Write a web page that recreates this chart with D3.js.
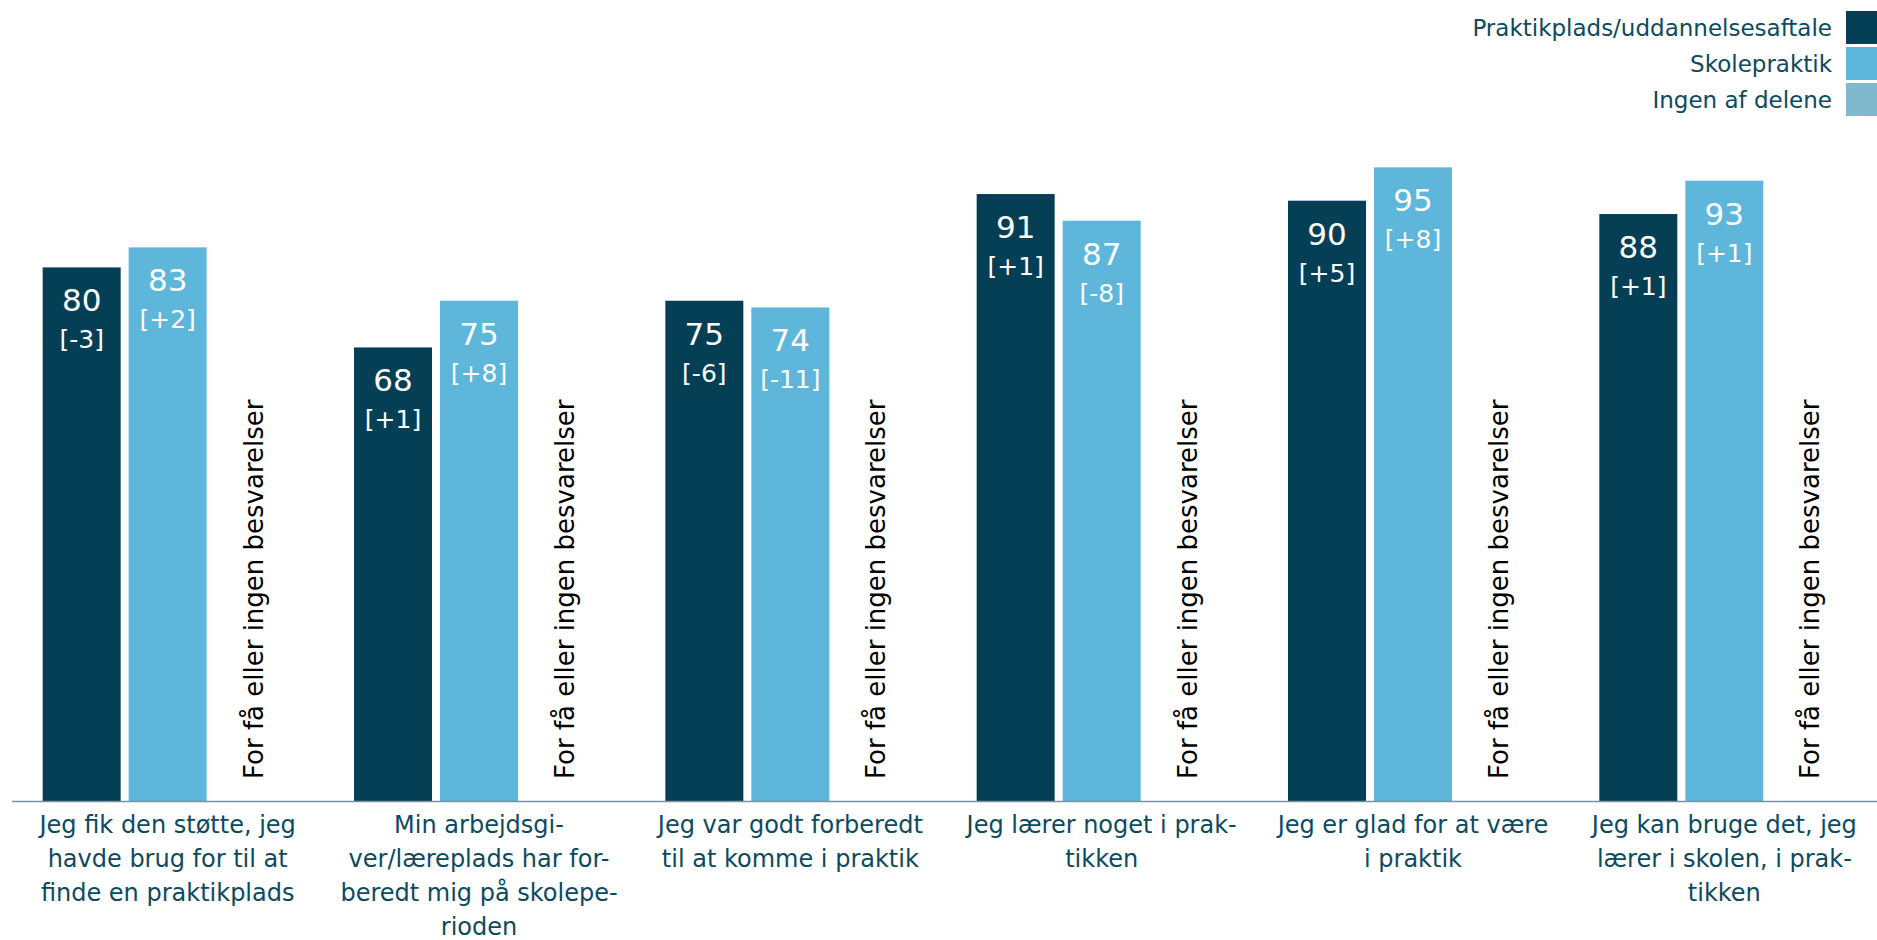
<!DOCTYPE html>
<html>
<head>
<meta charset="utf-8">
<script src="https://cdn.jsdelivr.net/npm/d3@7"></script>
<style>
  body { margin: 0; background: #fff; }
  text { font-family: "DejaVu Sans", Verdana, sans-serif; }
</style>
</head>
<body>
<script>
// data
var categories = [
  "Jeg fik den støtte, jeg|havde brug for til at|finde en praktikplads",
  "Min arbejdsgi-|ver/læreplads har for-|beredt mig på skolepe-|rioden",
  "Jeg var godt forberedt|til at komme i praktik",
  "Jeg lærer noget i prak-|tikken",
  "Jeg er glad for at være|i praktik",
  "Jeg kan bruge det, jeg|lærer i skolen, i prak-|tikken"
];
var seriesNames = ["Praktikplads/uddannelsesaftale", "Skolepraktik", "Ingen af delene"];
var praktikValues = [80, 68, 75, 91, 90, 88];
var praktikChange = ["-3", "+1", "-6", "+1", "+5", "+1"];
var skoleValues = [83, 75, 74, 87, 95, 93];
var skoleChange = ["+2", "+8", "-11", "-8", "+8", "+1"];
var ingenValues = [null, null, null, null, null, null];
var noDataText = "For få eller ingen besvarelser";

var colors = ["#043f56", "#5eb6db", "#80b8cd"];
var labelColor = "#0b4a60";

var svgWidth = 1877, svgHeight = 940;
var svg = d3.select("body").append("svg")
    .attr("width", svgWidth)
    .attr("height", svgHeight);

var baseY = 801;

var x0 = d3.scaleBand()
    .domain(d3.range(categories.length))
    .range([12, 1880])
    .paddingInner(0.197)
    .paddingOuter(0.0985);

var x1 = d3.scaleBand()
    .domain(d3.range(seriesNames.length))
    .range([0, x0.bandwidth()])
    .paddingInner(0.093);

var y = d3.scaleLinear()
    .domain([0, 100])
    .range([baseY, 134]);

var series = [
  { values: praktikValues, change: praktikChange },
  { values: skoleValues, change: skoleChange },
  { values: ingenValues, change: null }
];

var groups = svg.selectAll("g.group")
    .data(categories)
    .enter().append("g")
    .attr("class", "group")
    .attr("transform", function(d, i) { return "translate(" + x0(i) + ",0)"; });

groups.each(function(cat, ci) {
  var g = d3.select(this);
  series.forEach(function(s, si) {
    var v = s.values[ci];
    var bx = x1(si);
    if (v == null) {
      g.append("text")
        .attr("transform", "translate(" + (bx + x1.bandwidth() / 2 + 9) + "," + (baseY - 22) + ") rotate(-90)")
        .attr("font-size", 26)
        .attr("fill", "#000")
        .text(noDataText);
      return;
    }
    g.append("rect")
      .attr("x", bx)
      .attr("y", y(v))
      .attr("width", x1.bandwidth())
      .attr("height", baseY - y(v))
      .attr("fill", colors[si]);
    g.append("text")
      .attr("x", bx + x1.bandwidth() / 2)
      .attr("y", y(v) + 44)
      .attr("text-anchor", "middle")
      .attr("font-size", 31)
      .attr("fill", "#fff")
      .text(v);
    g.append("text")
      .attr("x", bx + x1.bandwidth() / 2)
      .attr("y", y(v) + 81)
      .attr("text-anchor", "middle")
      .attr("font-size", 25)
      .attr("fill", "#fff")
      .text("[" + s.change[ci] + "]");
  });

  var lines = cat.split("|");
  var t = g.append("text")
    .attr("text-anchor", "middle")
    .attr("font-size", 24)
    .attr("fill", labelColor);
  lines.forEach(function(l, li) {
    t.append("tspan")
      .attr("x", x0.bandwidth() / 2)
      .attr("y", 833 + li * 34)
      .text(l);
  });
});

// axis line
svg.append("line")
    .attr("x1", 12)
    .attr("x2", svgWidth)
    .attr("y1", baseY + 0.5)
    .attr("y2", baseY + 0.5)
    .attr("stroke", "#7a90a3")
    .attr("stroke-width", 1.5);

// legend
var legend = svg.selectAll("g.legend")
    .data(seriesNames)
    .enter().append("g")
    .attr("class", "legend")
    .attr("transform", function(d, i) { return "translate(0," + (11 + i * 36) + ")"; });

legend.append("rect")
    .attr("x", 1846)
    .attr("y", 0)
    .attr("width", 33)
    .attr("height", 33)
    .attr("fill", function(d, i) { return colors[i]; });

legend.append("text")
    .attr("x", 1832)
    .attr("y", 25)
    .attr("text-anchor", "end")
    .attr("font-size", 23)
    .attr("fill", labelColor)
    .text(function(d) { return d; });
</script>
</body>
</html>
